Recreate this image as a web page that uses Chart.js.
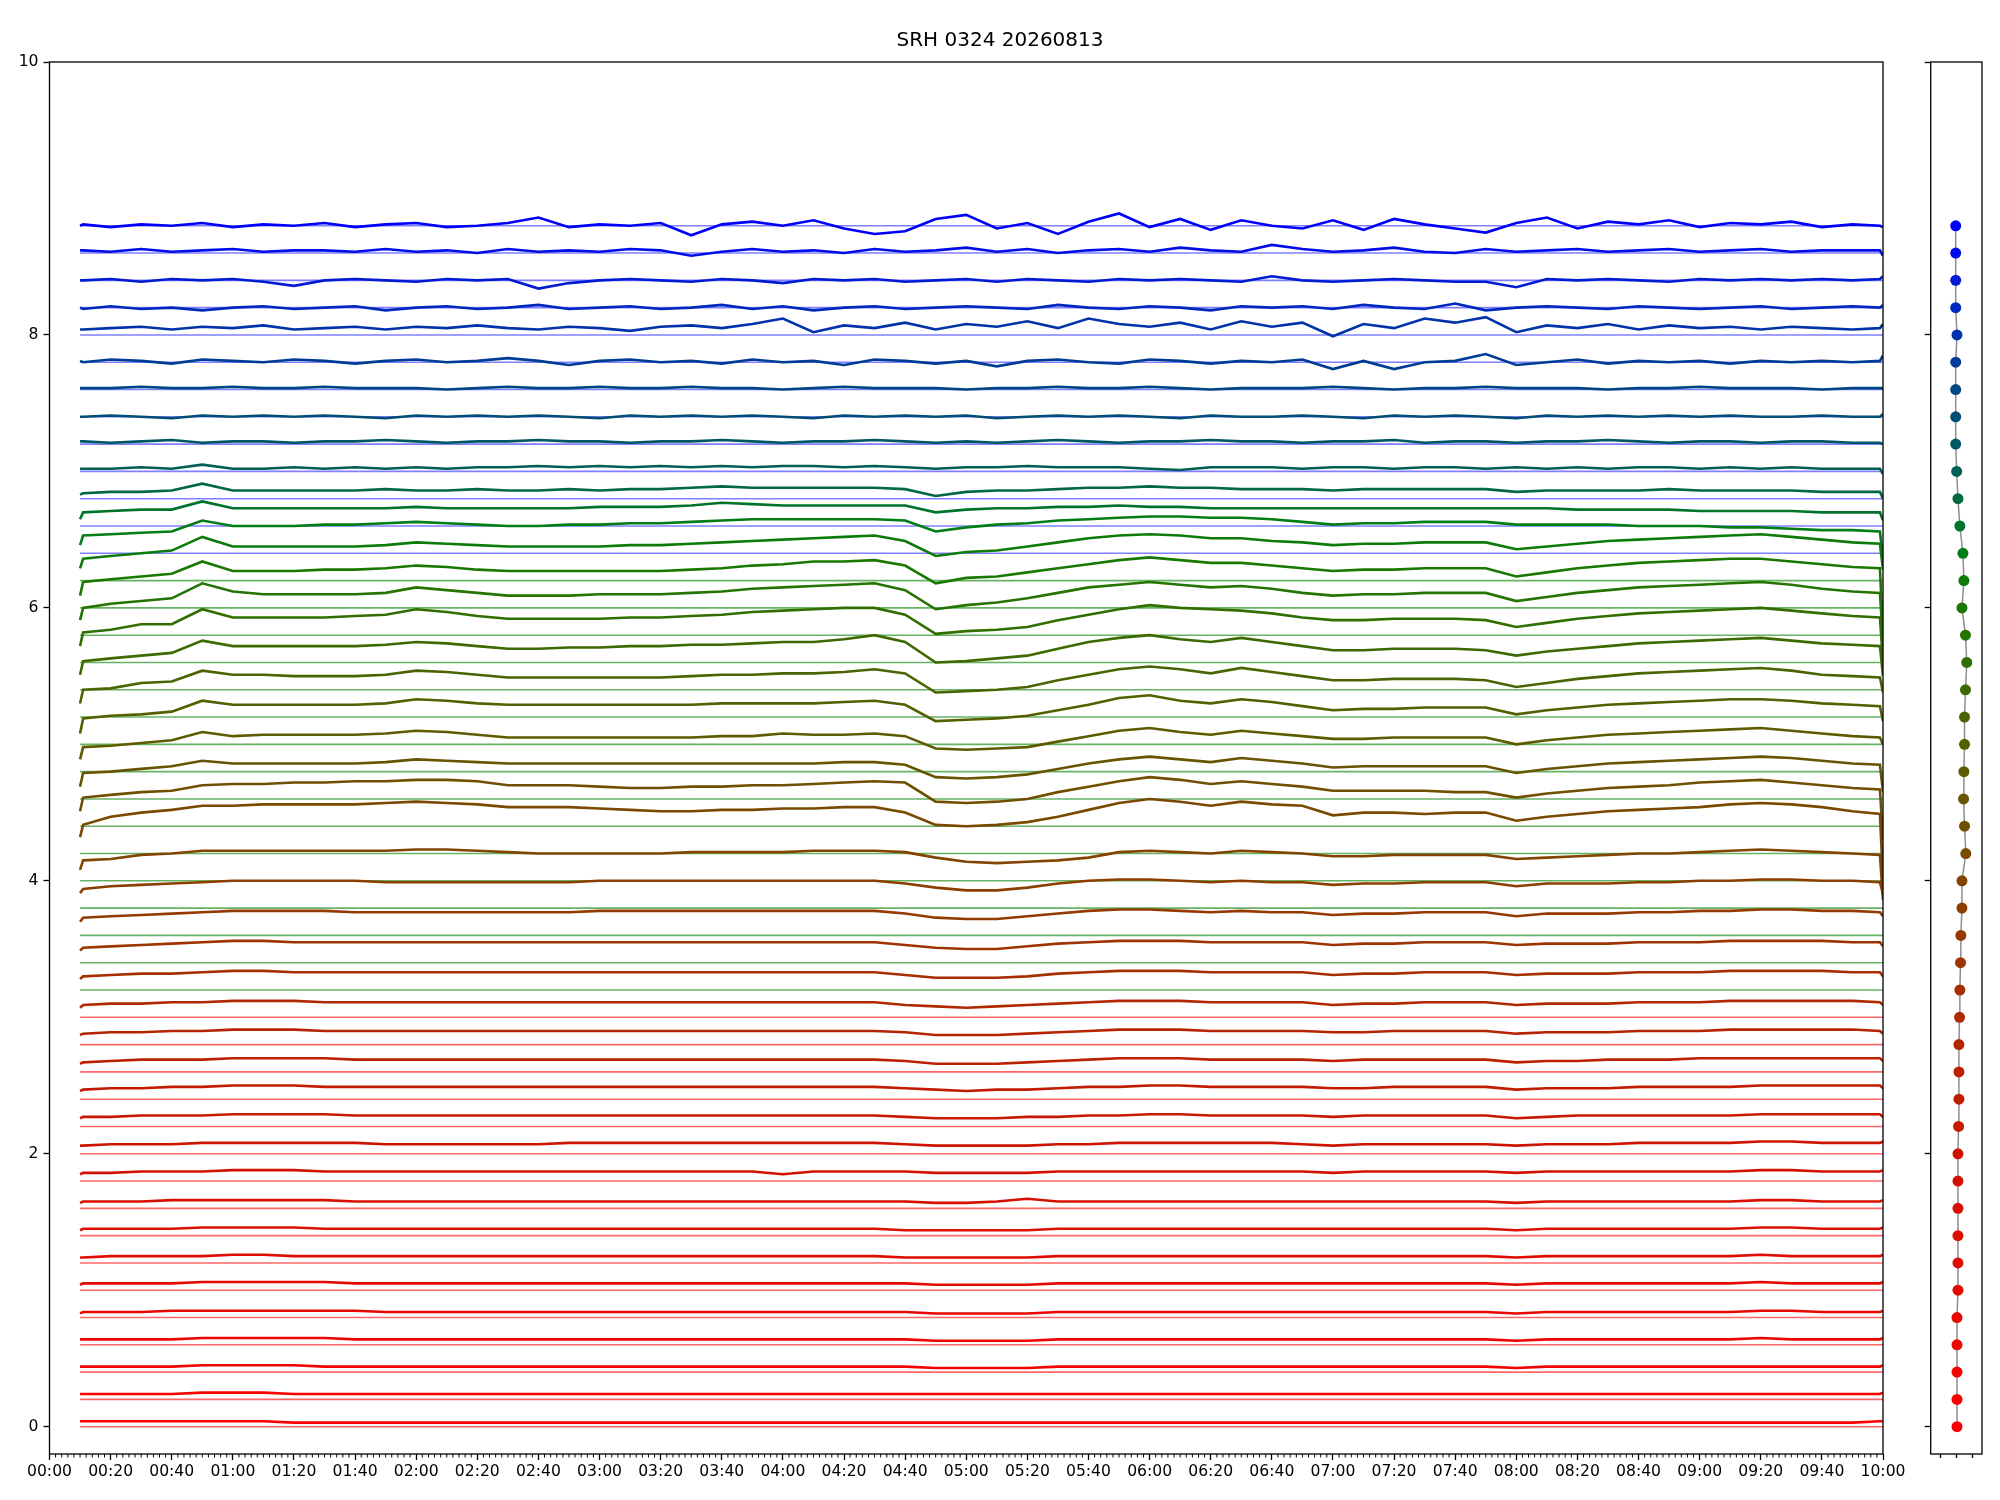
<!DOCTYPE html>
<html>
<head>
<meta charset="utf-8">
<script src="https://cdn.jsdelivr.net/npm/chart.js@4.4.1/dist/chart.umd.min.js"></script>
<style>
  body { margin: 0; background: #fff; }
  #wrap { position: relative; width: 2000px; height: 1500px; }
  canvas { position: absolute; left: 0; top: 0; }
</style>
</head>
<body>
<div id="wrap">
  <canvas id="main" width="2000" height="1500"></canvas>
  <canvas id="side" width="2000" height="1500"></canvas>
</div>
<script>
// sample times, minutes after 00:00
const times = [10, 11, 20, 30, 40, 50, 60, 70, 80, 90,
  100, 110, 120, 130, 140, 150, 160, 170, 180, 190,
  200, 210, 220, 230, 240, 250, 260, 270, 280, 290,
  300, 310, 320, 330, 340, 350, 360, 370, 380, 390,
  400, 410, 420, 430, 440, 450, 460, 470, 480, 490,
  500, 510, 520, 530, 540, 550, 560, 570, 580, 590,
  599, 600];

// channel offsets (one trace per channel)
const levels = [0, 0.2, 0.4, 0.6, 0.8, 1.0, 1.2, 1.4, 1.6, 1.8,
  2.0, 2.2, 2.4, 2.6, 2.8, 3.0, 3.2, 3.4, 3.6, 3.8,
  4.0, 4.2, 4.4, 4.6, 4.8, 5.0, 5.2, 5.4, 5.6, 5.8,
  6.0, 6.2, 6.4, 6.6, 6.8, 7.0, 7.2, 7.4, 7.6, 7.8,
  8.0, 8.2, 8.4, 8.6, 8.8];

// right panel dot positions
const dotX = [0.04, 0.04, 0.04, 0.04, 0.04, 0.1, 0.1, 0.1, 0.1, 0.1,
  0.1, 0.14, 0.16, 0.16, 0.16, 0.2, 0.22, 0.26, 0.28, 0.35,
  0.35, 0.59, 0.51, 0.45, 0.47, 0.51, 0.51, 0.57, 0.65, 0.57,
  0.35, 0.47, 0.41, 0.22, 0.1, 0.02, -0.04, -0.04, -0.04, -0.04,
  0.04, -0.04, -0.04, -0.04, -0.04];

// trace values above the channel offset, in hundredths
const ch00 = [4,4,4,4,4,4,4,4,3,3, 3,3,3,3,3,3,3,3,3,3, 3,3,3,3,3,3,3,3,3,3, 3,3,3,3,3,3,3,3,3,3, 3,3,3,3,3,3,3,3,3,3, 3,3,3,3,3,3,3,3,3,3, 4,4];
const ch01 = [4,4,4,4,4,5,5,5,4,4, 4,4,4,4,4,4,4,4,4,4, 4,4,4,4,4,4,4,4,4,4, 4,4,4,4,4,4,4,4,4,4, 4,4,4,4,4,4,4,4,4,4, 4,4,4,4,4,4,4,4,4,4, 4,5];
const ch02 = [4,4,4,4,4,5,5,5,5,4, 4,4,4,4,4,4,4,4,4,4, 4,4,4,4,4,4,4,4,4,3, 3,3,3,4,4,4,4,4,4,4, 4,4,4,4,4,4,4,4,3,4, 4,4,4,4,4,4,4,4,4,4, 4,5];
const ch03 = [4,4,4,4,4,5,5,5,5,5, 4,4,4,4,4,4,4,4,4,4, 4,4,4,4,4,4,4,4,4,3, 3,3,3,4,4,4,4,4,4,4, 4,4,4,4,4,4,4,4,3,4, 4,4,4,4,4,4,5,4,4,4, 4,5];
const ch04 = [3,4,4,4,5,5,5,5,5,5, 5,4,4,4,4,4,4,4,4,4, 4,4,4,4,4,4,4,4,4,3, 3,3,3,4,4,4,4,4,4,4, 4,4,4,4,4,4,4,4,3,4, 4,4,4,4,4,4,5,5,4,4, 4,5];
const ch05 = [4,5,5,5,5,6,6,6,6,6, 5,5,5,5,5,5,5,5,5,5, 5,5,5,5,5,5,5,5,5,4, 4,4,4,5,5,5,5,5,5,5, 5,5,5,5,5,5,5,5,4,5, 5,5,5,5,5,5,6,5,5,5, 5,6];
const ch06 = [4,4,5,5,5,5,6,6,5,5, 5,5,5,5,5,5,5,5,5,5, 5,5,5,5,5,5,5,5,4,4, 4,4,4,5,5,5,5,5,5,5, 5,5,5,5,5,5,5,5,4,5, 5,5,5,5,5,5,6,5,5,5, 5,6];
const ch07 = [4,5,5,5,5,6,6,6,6,5, 5,5,5,5,5,5,5,5,5,5, 5,5,5,5,5,5,5,5,4,4, 4,4,4,5,5,5,5,5,5,5, 5,5,5,5,5,5,5,5,4,5, 5,5,5,5,5,5,6,6,5,5, 5,6];
const ch08 = [4,5,5,5,6,6,6,6,6,6, 5,5,5,5,5,5,5,5,5,5, 5,5,5,5,5,5,5,5,5,4, 4,5,7,5,5,5,5,5,5,5, 5,5,5,5,5,5,5,5,4,5, 5,5,5,5,5,5,6,6,5,5, 5,6];
const ch09 = [5,6,6,7,7,7,8,8,8,7, 7,7,7,7,7,7,7,7,7,7, 7,7,7,7,5,7,7,7,7,6, 6,6,6,7,7,7,7,7,7,7, 7,7,6,7,7,7,7,7,6,7, 7,7,7,7,7,7,8,8,7,7, 7,8];
const ch10 = [6,6,7,7,7,8,8,8,8,8, 8,7,7,7,7,7,7,8,8,8, 8,8,8,8,8,8,8,8,7,6, 6,6,6,7,7,8,8,8,8,8, 8,7,6,7,7,7,7,7,6,7, 7,7,8,8,8,8,9,9,8,8, 8,9];
const ch11 = [6,7,7,8,8,8,9,9,9,9, 8,8,8,8,8,8,8,8,8,8, 8,8,8,8,8,8,8,8,7,6, 6,6,7,7,8,8,9,9,8,8, 8,8,7,8,8,8,8,8,6,7, 8,8,8,8,8,8,9,9,9,9, 9,7];
const ch12 = [6,7,8,8,9,9,10,10,10,9, 9,9,9,9,9,9,9,9,9,9, 9,9,9,9,9,9,9,9,8,7, 6,7,7,8,9,9,10,10,9,9, 9,9,8,8,9,9,9,9,7,8, 8,8,9,9,9,9,10,10,10,10, 10,8];
const ch13 = [6,7,8,9,9,9,10,10,10,10, 9,9,9,9,9,9,9,9,9,9, 9,9,9,9,9,9,9,9,8,6, 6,6,7,8,9,10,10,10,9,9, 9,9,8,9,9,9,9,9,7,8, 8,9,9,9,10,10,10,10,10,10, 10,8];
const ch14 = [7,8,9,9,10,10,11,11,11,10, 10,10,10,10,10,10,10,10,10,10, 10,10,10,10,10,10,10,10,9,7, 7,7,8,9,10,11,11,11,10,10, 10,10,9,9,10,10,10,10,8,9, 9,9,10,10,10,11,11,11,11,11, 10,8];
const ch15 = [7,9,10,10,11,11,12,12,12,11, 11,11,11,11,11,11,11,11,11,11, 11,11,11,11,11,11,11,11,9,8, 7,8,9,10,11,12,12,12,11,11, 11,11,9,10,10,11,11,11,9,10, 10,10,11,11,11,12,12,12,12,12, 11,9];
const ch16 = [8,10,11,12,12,13,14,14,13,13, 13,13,13,13,13,13,13,13,13,13, 13,13,13,13,13,13,13,13,11,9, 9,9,10,12,13,14,14,14,13,13, 13,13,11,12,12,13,13,13,11,12, 12,12,13,13,13,14,14,14,14,13, 13,10];
const ch17 = [9,11,12,13,14,15,16,16,15,15, 15,15,15,15,15,15,15,15,15,15, 15,15,15,15,15,15,15,15,13,11, 10,10,12,14,15,16,16,16,15,15, 15,15,13,14,14,15,15,15,13,14, 14,14,15,15,15,16,16,16,16,15, 15,12];
const ch18 = [10,13,14,15,16,17,18,18,18,18, 17,17,17,17,17,17,17,17,18,18, 18,18,18,18,18,18,18,18,16,13, 12,12,14,16,18,19,19,18,17,18, 17,17,15,16,16,17,17,17,14,16, 16,16,17,17,18,18,19,19,18,18, 17,14];
const ch19 = [11,14,16,17,18,19,20,20,20,20, 20,19,19,19,19,19,19,19,20,20, 20,20,20,20,20,20,20,20,18,15, 13,13,15,18,20,21,21,20,19,20, 19,19,17,18,18,19,19,19,16,18, 18,18,19,19,20,20,21,21,20,20, 19,10];
const ch20 = [8,15,16,19,20,22,22,22,22,22, 22,22,23,23,22,21,20,20,20,20, 20,21,21,21,21,22,22,22,21,17, 14,13,14,15,17,21,22,21,20,22, 21,20,18,18,19,19,19,19,16,17, 18,19,20,20,21,22,23,22,21,20, 19,-14];
const ch21 = [12,21,27,30,32,35,35,36,36,36, 36,37,38,37,36,34,34,34,33,32, 31,31,32,32,33,33,34,34,30,21, 20,21,23,27,32,37,40,38,35,38, 36,35,28,30,30,29,30,30,24,27, 29,31,32,33,34,36,37,36,34,31, 29,-20];
const ch22 = [11,21,23,25,26,30,31,31,32,32, 33,33,34,34,33,30,30,30,29,28, 28,29,29,30,30,31,32,33,32,18, 17,18,20,25,29,33,36,34,31,33, 31,29,26,26,26,26,25,25,21,24, 26,28,29,30,32,33,34,32,30,28, 27,-10];
const ch23 = [9,19,20,22,24,28,26,26,26,26, 26,27,29,28,27,26,26,26,26,26, 26,26,26,26,26,26,27,27,25,16, 15,16,18,22,26,29,31,29,27,30, 28,26,23,24,24,24,24,24,19,22, 24,26,27,28,29,30,31,30,28,26, 25,5];
const ch24 = [9,18,19,21,23,29,26,27,27,27, 27,28,30,29,27,25,25,25,25,25, 25,25,26,26,28,27,27,28,26,17, 16,17,18,22,26,30,32,29,27,30, 28,26,24,24,25,25,25,25,20,23, 25,27,28,29,30,31,32,30,28,26, 25,20];
const ch25 = [8,19,21,22,24,32,29,29,29,29, 29,30,33,32,30,29,29,29,29,29, 29,29,30,30,30,30,31,32,29,17, 18,19,21,25,29,34,36,32,30,33, 31,28,25,26,26,27,27,27,22,25, 27,29,30,31,32,33,33,32,30,29, 28,17];
const ch26 = [10,20,21,25,26,34,31,31,30,30, 30,31,34,33,31,29,29,29,29,29, 29,30,31,31,32,32,33,35,32,18, 19,20,22,27,31,35,37,35,32,36, 33,30,27,27,28,28,28,27,22,25, 28,30,32,33,34,35,36,34,31,30, 29,18];
const ch27 = [11,21,23,25,27,36,32,32,32,32, 32,33,35,34,32,30,30,31,31,32, 32,33,33,34,35,35,37,40,35,20, 21,23,25,30,35,38,40,37,35,38, 35,32,29,29,30,30,30,29,25,28, 30,32,34,35,36,37,38,36,34,33, 32,10];
const ch28 = [12,22,24,28,28,39,33,33,33,33, 34,35,39,37,34,32,32,32,32,33, 33,34,35,37,38,39,40,40,35,21, 23,24,26,31,35,39,42,40,39,38, 36,33,31,31,32,32,32,31,26,29, 32,34,36,37,38,39,40,38,36,34, 33,0];
const ch29 = [11,20,23,25,27,38,32,30,30,30, 30,31,35,33,31,29,29,29,30,30, 30,31,32,34,35,36,37,38,33,19, 22,24,27,31,35,37,39,37,35,36, 34,31,29,30,30,31,31,31,25,28, 31,33,35,36,37,38,39,37,34,32, 31,-5];
const ch30 = [9,19,21,23,25,34,27,27,27,28, 28,29,31,30,28,27,27,27,27,27, 27,28,29,31,32,34,34,35,31,18, 22,23,26,29,32,35,37,35,33,33, 31,29,27,28,28,29,29,29,23,26, 29,31,33,34,35,36,36,34,32,30, 29,-20];
const ch31 = [9,16,18,20,22,32,25,25,25,25, 25,26,28,27,26,25,25,25,25,26, 26,27,28,29,30,31,32,33,29,18, 21,22,25,28,31,33,34,33,31,31, 29,28,26,27,27,28,28,28,23,25, 27,29,30,31,32,33,34,32,30,28, 27,8];
const ch32 = [6,13,14,15,16,24,20,20,20,21, 21,22,23,22,21,20,20,21,21,22, 22,23,24,25,25,25,25,25,24,16, 19,21,22,24,25,26,27,27,26,26, 25,23,21,22,22,23,23,23,21,21, 21,21,20,20,20,19,19,18,17,17, 16,-5];
const ch33 = [5,10,11,12,12,18,13,13,13,13, 13,13,14,13,13,13,13,13,14,14, 14,15,17,16,15,15,15,15,15,10, 12,13,13,14,14,15,14,14,13,13, 13,13,13,13,13,13,13,13,13,13, 12,12,12,12,11,11,11,11,10,10, 10,4];
const ch34 = [3,4,5,5,6,11,6,6,6,6, 6,7,6,6,7,6,6,7,6,7, 7,8,9,8,8,8,8,8,7,2, 5,6,6,7,8,8,9,8,8,7, 7,7,6,7,7,7,7,7,5,6, 6,6,6,7,6,6,6,6,5,5, 5,0];
const ch35 = [2,2,2,3,2,5,2,2,3,2, 3,2,3,2,3,3,4,3,4,3, 4,3,4,3,4,4,3,4,3,2, 3,3,4,3,3,3,2,1,3,3, 3,2,3,3,2,3,3,2,3,2, 3,2,3,3,2,3,2,3,2,2, 2,-2];
const ch36 = [2,2,1,2,3,1,2,2,1,2, 2,3,2,1,2,2,3,2,2,1, 2,2,3,2,1,2,2,3,2,1, 2,1,2,3,2,1,2,2,3,2, 2,1,2,2,3,1,2,2,1,2, 2,3,2,1,2,2,1,2,2,1, 1,0];
const ch37 = [0,0,1,0,-1,1,0,1,0,1, 0,-1,1,0,1,0,1,0,-1,1, 0,1,0,1,0,-1,1,0,1,0, 1,-1,0,1,0,1,0,-1,1,0, 0,1,0,-1,1,0,1,0,-1,1, 0,1,0,1,0,1,0,0,1,0, 0,2];
const ch38 = [1,1,1,2,1,1,2,1,1,2, 1,1,1,0,1,2,1,1,2,1, 1,2,1,1,0,1,2,1,1,1, 0,1,1,2,1,1,2,1,0,1, 1,1,2,1,0,1,1,2,1,1, 1,0,1,1,2,1,1,1,0,1, 1,1];
const ch39 = [1,0,2,1,-1,2,1,0,2,1, -1,1,2,0,1,3,1,-2,1,2, 0,1,-1,2,0,1,-2,2,1,-1, 1,-3,1,2,0,-1,2,1,-1,1, 0,2,-5,1,-5,0,1,6,-2,0, 2,-1,1,0,1,-1,1,0,1,0, 1,5];
const ch40 = [4,4,5,6,4,6,5,7,4,5, 6,4,6,5,7,5,4,6,5,3, 6,7,5,8,12,2,7,5,9,4, 8,6,10,5,12,8,6,9,4,10, 6,9,-1,8,5,12,9,13,2,7, 5,8,4,7,5,6,4,6,5,4, 5,8];
const ch41 = [0,-1,1,-1,0,-2,0,1,-1,0, 1,-2,0,1,-1,0,2,-1,0,1, -1,0,2,-1,1,-2,0,1,-1,0, 1,0,-1,2,0,-1,1,0,-2,1, 0,1,-1,2,0,-1,3,-2,0,1, 0,-1,1,0,-1,0,1,-1,0,1, 0,2];
const ch42 = [0,0,1,-1,1,0,1,-1,-4,0, 1,0,-1,1,0,1,-6,-2,0,1, 0,-1,1,0,-2,1,0,1,-1,0, 1,-1,1,0,-1,1,0,1,0,-1, 3,0,-1,0,1,0,-1,-1,-5,1, 0,1,0,-1,1,0,1,0,1,0, 1,3];
const ch43 = [2,2,1,3,1,2,3,1,2,2, 1,3,1,2,0,3,1,2,1,3, 2,-2,1,3,1,2,0,3,1,2, 4,1,3,0,2,3,1,4,2,1, 6,3,1,2,4,1,0,3,1,2, 3,1,2,3,1,2,3,1,2,2, 2,-2];
const ch44 = [0,1,-1,1,0,2,-1,1,0,2, -1,1,2,-1,0,2,6,-1,1,0, 2,-7,1,3,0,4,-2,-6,-4,5, 8,-2,2,-6,3,9,-1,5,-3,4, 0,-2,4,-3,5,1,-2,-5,2,6, -2,3,1,4,-1,2,1,3,-1,1, 0,-1];

const channels = [ch00, ch01, ch02, ch03, ch04, ch05, ch06, ch07, ch08, ch09,
  ch10, ch11, ch12, ch13, ch14, ch15, ch16, ch17, ch18, ch19,
  ch20, ch21, ch22, ch23, ch24, ch25, ch26, ch27, ch28, ch29,
  ch30, ch31, ch32, ch33, ch34, ch35, ch36, ch37, ch38, ch39,
  ch40, ch41, ch42, ch43, ch44];

const xTicks = [];
for (let m = 0; m <= 600; m += 20) xTicks.push(m);

// red -> green -> blue shading of the traces
const colorStops = [[0, [250, 0, 0]], [10, [205, 20, 0]], [15, [175, 40, 0]], [20, [130, 68, 0]],
  [25, [85, 95, 0]], [30, [25, 120, 0]], [32, [0, 125, 20]], [35, [0, 95, 85]],
  [38, [0, 70, 130]], [41, [0, 40, 190]], [44, [0, 0, 250]]];

function traceColor(i) {
    for (let s = 0; s < colorStops.length - 1; s++) {
        const [a, ca] = colorStops[s];
        const [b, cb] = colorStops[s + 1];
        if (i >= a && i <= b) {
            const f = (i - a) / (b - a);
            const c = ca.map((v, k) => Math.round(v + (cb[k] - v) * f));
            return 'rgb(' + c.join(',') + ')';
        }
    }
    return 'rgb(0,0,250)';
}

function baseColor(i) {
    if (i <= 15) return 'rgba(255,0,0,0.6)';
    if (i <= 31) return 'rgba(0,128,0,0.6)';
    return 'rgba(0,0,255,0.5)';
}

function hhmm(v) {
    const h = Math.floor(v / 60), m = v % 60;
    return String(h).padStart(2, '0') + ':' + String(m).padStart(2, '0');
}

const FONT = 'DejaVu Sans';

const frame = {
    id: 'frame',
    afterDraw(chart) {
        const a = chart.chartArea, ctx = chart.ctx;
        ctx.save();
        ctx.strokeStyle = '#000';
        ctx.lineWidth = 1.3;
        ctx.strokeRect(a.left, a.top, a.right - a.left, a.bottom - a.top);
        ctx.restore();
    }
};

const minorTicks = {
    id: 'minorTicks',
    afterDraw(chart) {
        const x = chart.scales.x, ctx = chart.ctx, b = chart.chartArea.bottom;
        ctx.save();
        ctx.strokeStyle = '#000';
        ctx.lineWidth = 1;
        ctx.beginPath();
        for (let m = 0; m <= 600; m += 2) {
            if (m % 20 === 0) continue;
            const px = x.getPixelForValue(m);
            ctx.moveTo(px, b);
            ctx.lineTo(px, b + 3.5);
        }
        ctx.stroke();
        ctx.restore();
    }
};

const traceSets = channels.map((c, i) => ({
    data: times.map((t, k) => ({ x: t, y: levels[i] + c[k] / 100 })),
    borderColor: traceColor(i),
    borderWidth: 2.6,
    pointRadius: 0,
    tension: 0
}));

const baseSets = levels.map((l, i) => ({
    data: [{ x: times[0], y: l }, { x: times[times.length - 1], y: l }],
    borderColor: baseColor(i),
    borderWidth: 1.6,
    pointRadius: 0
}));

const tickGrid = { drawOnChartArea: false, tickLength: 6, tickColor: '#000', tickWidth: 1.3 };

new Chart(document.getElementById('main'), {
    type: 'line',
    data: { datasets: traceSets.concat(baseSets) },
    options: {
        responsive: false,
        animation: false,
        devicePixelRatio: 1,
        layout: { padding: 0 },
        plugins: {
            legend: { display: false },
            tooltip: { enabled: false },
            title: {
                display: true,
                text: 'SRH 0324 20260813',
                color: '#000',
                font: { family: FONT, size: 20, weight: 'normal' },
                padding: { top: 28.4, bottom: 9.6 }
            }
        },
        scales: {
            x: {
                type: 'linear', min: 0, max: 600,
                border: { display: false },
                grid: tickGrid,
                afterBuildTicks: s => { s.ticks = xTicks.map(v => ({ value: v })); },
                ticks: {
                    autoSkip: false, maxRotation: 0, color: '#000', padding: 3,
                    font: { family: FONT, size: 15.6 },
                    callback: v => hhmm(v)
                },
                // keep the plot's right edge at 1883 while the title stays centred on the page
                afterFit: s => { s.height = 46; s.paddingLeft = 0; s.paddingRight = 117; }
            },
            y: {
                type: 'linear', min: -0.2, max: 10,
                border: { display: false },
                grid: tickGrid,
                afterBuildTicks: s => { s.ticks = [0, 2, 4, 6, 8, 10].map(v => ({ value: v })); },
                ticks: {
                    color: '#000', padding: 5,
                    font: { family: FONT, size: 15.6 },
                    callback: v => String(v)
                },
                afterFit: s => { s.width = 49.5; s.paddingTop = 0; s.paddingBottom = 0; }
            }
        }
    },
    plugins: [frame, minorTicks]
});

new Chart(document.getElementById('side'), {
    type: 'scatter',
    data: {
        datasets: [{
            data: levels.map((l, i) => ({ x: dotX[i], y: l })),
            showLine: true,
            borderColor: 'rgba(0,0,0,0.45)',
            borderWidth: 1.5,
            pointRadius: 5.5,
            pointBorderWidth: 0,
            pointBackgroundColor: levels.map((l, i) => traceColor(i))
        }]
    },
    options: {
        responsive: false,
        animation: false,
        devicePixelRatio: 1,
        layout: { padding: { left: 1924.7, right: 18, top: 62, bottom: 0 } },
        plugins: { legend: { display: false }, tooltip: { enabled: false } },
        scales: {
            x: {
                type: 'linear', min: -1.6, max: 1.6,
                border: { display: false },
                grid: { drawOnChartArea: false, tickLength: 4, tickColor: '#000', tickWidth: 1.3 },
                afterBuildTicks: s => { s.ticks = [-1, 0, 1].map(v => ({ value: v })); },
                ticks: { display: false },
                afterFit: s => { s.height = 46; s.paddingLeft = 0; s.paddingRight = 0; }
            },
            y: {
                type: 'linear', min: -0.2, max: 10,
                border: { display: false },
                grid: tickGrid,
                afterBuildTicks: s => { s.ticks = [0, 2, 4, 6, 8, 10].map(v => ({ value: v })); },
                ticks: { display: false },
                afterFit: s => { s.width = 6; s.paddingTop = 0; s.paddingBottom = 0; }
            }
        }
    },
    plugins: [frame]
});
</script>
</body>
</html>
